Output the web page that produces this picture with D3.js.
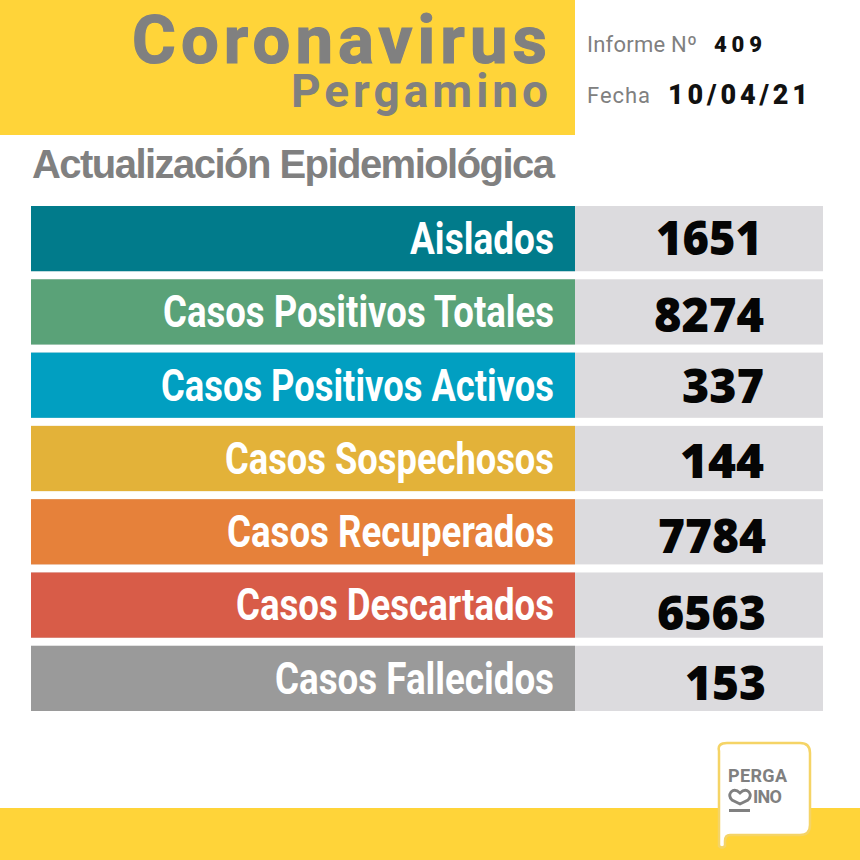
<!DOCTYPE html>
<html>
<head>
<meta charset="utf-8">
<title>Coronavirus Pergamino</title>
<script src="https://cdn.jsdelivr.net/npm/d3@7"></script>
<style>
  html, body { margin: 0; padding: 0; background: #fff; }
  svg { display: block; }
</style>
</head>
<body>
<svg id="chart" width="860" height="860"></svg>
<script>
// Data
var categories = ['Aislados', 'Casos Positivos Totales', 'Casos Positivos Activos',
  'Casos Sospechosos', 'Casos Recuperados', 'Casos Descartados', 'Casos Fallecidos'];
var values = [1651, 8274, 337, 144, 7784, 6563, 153];
var barColors = ['#017b8b', '#5aa278', '#019fc1', '#e3b239', '#e6813a', '#d85c48', '#9a9a9a'];
var reportNumber = '409';
var reportDate = '10/04/21';

// Layout
var w = 860;
var h = 860;
var labelRight = 554;
var labelWidths = [144, 391, 393, 329, 327, 318, 279];
var valueWidths = [106, 110, 82, 84, 108, 109, 81];
var valueRights = [762, 764, 764, 764, 766, 766, 766];
var valueShift = [0, 4, 1, 3, 5, 9, 5];
var grey = '#808080';
var yellow = '#ffd439';

var svg = d3.select('#chart');

// Same length bars, the value only shows as text
var yScale = d3.scaleBand()
  .domain(categories)
  .range([206, 711])
  .paddingInner(0.11)
  .paddingOuter(0)
  .align(0);

// Yellow header and footer
svg.append('rect').attr('x', 0).attr('y', 0).attr('width', 575).attr('height', 135).attr('fill', yellow);
svg.append('rect').attr('x', 0).attr('y', 808).attr('width', w).attr('height', 52).attr('fill', yellow);

function addText(txt, x, y, size, width, color, family, weight) {
  return svg.append('text')
    .attr('x', x)
    .attr('y', y)
    .attr('font-size', size)
    .attr('font-family', family)
    .attr('font-weight', weight)
    .attr('fill', color)
    .attr('textLength', width)
    .attr('lengthAdjust', 'spacing')
    .text(txt);
}

addText('Coronavirus', 132, 63, 67, 415, grey, 'Roboto', 700)
  .attr('stroke', grey).attr('stroke-width', 1.2);
addText('Pergamino', 291, 107, 46, 257, grey, 'Roboto', 700);
addText('Actualización Epidemiológica', 32, 178, 40, 523, grey, 'Liberation Sans', 700);

addText('Informe Nº', 587, 52, 22, 110, grey, 'Roboto', 400);
addText(reportNumber, 714, 52, 22, 48, '#111', 'Roboto', 900);
addText('Fecha', 587, 103, 22, 63, grey, 'Roboto', 400);
addText(reportDate, 668, 104, 27, 140, '#111', 'Roboto', 900);

// Bars and grey value panels
svg.selectAll('rect.panel')
  .data(categories)
  .enter()
  .append('rect')
  .attr('class', 'panel')
  .attr('x', 31)
  .attr('y', (d) => yScale(d))
  .attr('width', 792)
  .attr('height', yScale.bandwidth())
  .attr('fill', '#dcdbde');

svg.selectAll('rect.bar')
  .data(categories)
  .enter()
  .append('rect')
  .attr('class', 'bar')
  .attr('x', 31)
  .attr('y', (d) => yScale(d))
  .attr('width', 544)
  .attr('height', yScale.bandwidth())
  .attr('fill', (d, i) => barColors[i]);

svg.selectAll('text.label')
  .data(categories)
  .enter()
  .append('text')
  .attr('class', 'label')
  .attr('x', (d, i) => labelRight - labelWidths[i])
  .attr('y', (d) => yScale(d) + 48)
  .attr('font-family', 'Roboto')
  .attr('font-weight', 700)
  .attr('font-size', 44)
  .attr('fill', '#fff')
  .attr('textLength', (d, i) => labelWidths[i])
  .attr('lengthAdjust', 'spacingAndGlyphs')
  .text((d) => d);

svg.selectAll('text.value')
  .data(values)
  .enter()
  .append('text')
  .attr('class', 'value')
  .attr('x', (d, i) => valueRights[i] - valueWidths[i])
  .attr('y', (d, i) => yScale(categories[i]) + 49 + valueShift[i])
  .attr('font-family', 'Open Sans')
  .attr('font-weight', 800)
  .attr('font-size', 47)
  .attr('fill', '#050505')
  .attr('textLength', (d, i) => valueWidths[i])
  .attr('lengthAdjust', 'spacingAndGlyphs')
  .text((d) => d);

// Pergamino logo bubble
svg.append('path')
  .attr('d', 'M727 743 H800 Q810 743 810 753 V825 Q810 835 800 835 H730 Q725 835 725 841 V846 Q722 849 719 846 V751 Q717 743 727 743 Z')
  .attr('fill', '#fff')
  .attr('stroke', '#f5d466')
  .attr('stroke-width', 2.5);

addText('PERGA', 728, 782, 18, 59, grey, 'Roboto', 700);
addText('INO', 753, 803, 18, 29, grey, 'Roboto', 700);

// Heart on its side, stands in for the M of the logo
svg.append('path')
  .attr('d', 'M740 793 Q735 788 731 792 Q728 796 732 800 L740 804 L748 800 Q752 796 749 792 Q745 788 740 793 Z')
  .attr('fill', 'none')
  .attr('stroke', grey)
  .attr('stroke-width', 2.8);

svg.append('rect').attr('x', 729).attr('y', 809).attr('width', 21).attr('height', 3).attr('fill', grey);
</script>
</body>
</html>
